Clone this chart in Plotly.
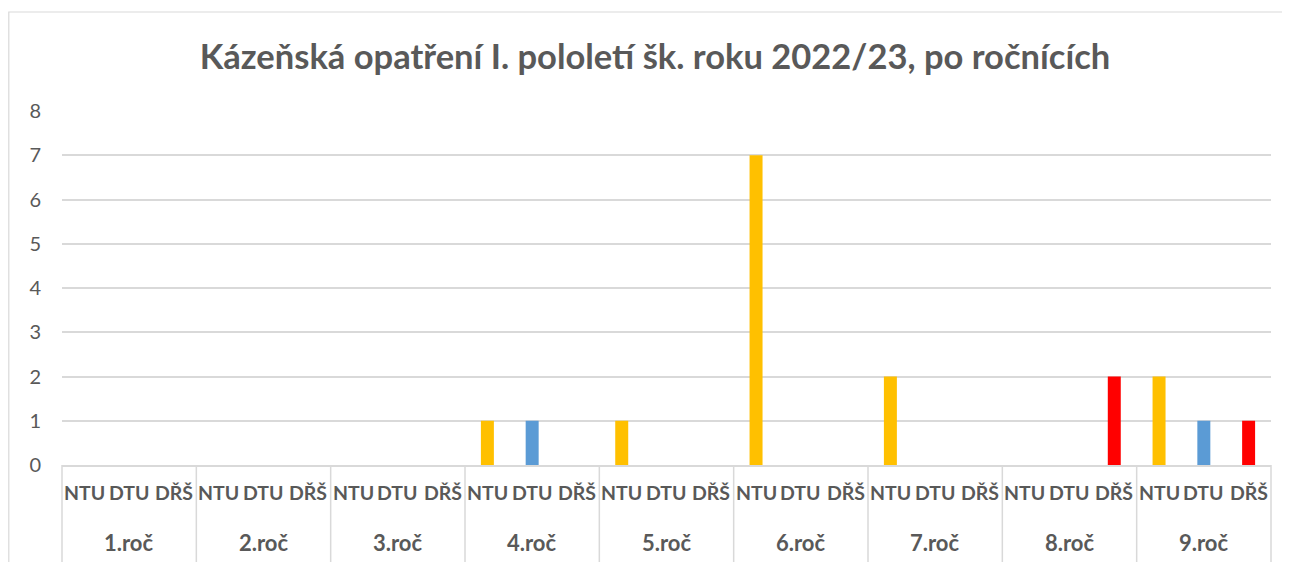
import plotly.graph_objects as go

grades = ["1.roč", "2.roč", "3.roč", "4.roč", "5.roč", "6.roč", "7.roč", "8.roč", "9.roč"]
measures = ["NTU", "DTU", "DŘŠ"]
ntu = [0, 0, 0, 1, 1, 7, 2, 0, 2]
dtu = [0, 0, 0, 1, 0, 0, 0, 0, 1]
drs = [0, 0, 0, 0, 0, 0, 0, 2, 1]
colors = ["#FFC000", "#5B9BD5", "#FF0000"]
series = [ntu, dtu, drs]

FONT = "Lato"
GRAY = "#595959"
LINE = "#D9D9D9"
n_slots = len(grades) * len(measures)

fig = go.Figure()
for s, (name, vals, col) in enumerate(zip(measures, series, colors)):
    fig.add_trace(go.Bar(
        x=[g * 3 + s for g in range(len(grades))],
        y=vals,
        name=name,
        marker=dict(color=col, line=dict(width=0)),
        width=0.29,
        showlegend=False,
    ))

annotations = []
for g, grade in enumerate(grades):
    for s, m in enumerate(measures):
        annotations.append(dict(
            x=g * 3 + s, y=-0.079, xref="x", yref="paper", text=m, showarrow=False,
            font=dict(family=FONT, size=19.5, color=GRAY, weight="bold"),
            xanchor="center", yanchor="middle"))
    annotations.append(dict(
        x=g * 3 + 1, y=-0.22, xref="x", yref="paper", text=grade, showarrow=False,
        font=dict(family=FONT, size=22, color=GRAY, weight="bold"),
        xanchor="center", yanchor="middle"))

shapes = []
for g in range(len(grades) + 1):
    xp = (g * 3) / n_slots
    shapes.append(dict(type="line", xref="paper", yref="paper", x0=xp, x1=xp,
                       y0=0, y1=-0.35, line=dict(color=LINE, width=1.5)))
# outer chart border
shapes.append(dict(type="rect", xref="paper", yref="paper",
                   x0=(0.8 - 54) / 1209, x1=1.05, y0=-0.4, y1=1.2797,
                   line=dict(color=LINE, width=1.2), fillcolor="rgba(0,0,0,0)", layer="below"))

fig.update_layout(
    width=1290, height=562,
    margin=dict(l=54, r=27, t=103, b=105),
    paper_bgcolor="white", plot_bgcolor="white",
    title=dict(text="Kázeňská opatření I. pololetí šk. roku 2022/23, po ročnících",
               x=647 / 1290, xref="container", xanchor="center", y=1 - 49 / 562, yanchor="middle",
               font=dict(family=FONT, size=34.5, color=GRAY, weight="bold")),
    barmode="overlay",
    xaxis=dict(range=[-0.5, n_slots - 0.5], showticklabels=False, showgrid=False,
               zeroline=False, showline=True, linecolor=LINE, linewidth=1.5, fixedrange=True),
    yaxis=dict(range=[0, 8], dtick=1, showgrid=True, gridcolor=LINE, gridwidth=1.5,
               zeroline=False, showline=False, ticklabelstandoff=20,
               tickfont=dict(family=FONT, size=20, color=GRAY)),
    annotations=annotations,
    shapes=shapes,
)

fig.write_html("out.html")
